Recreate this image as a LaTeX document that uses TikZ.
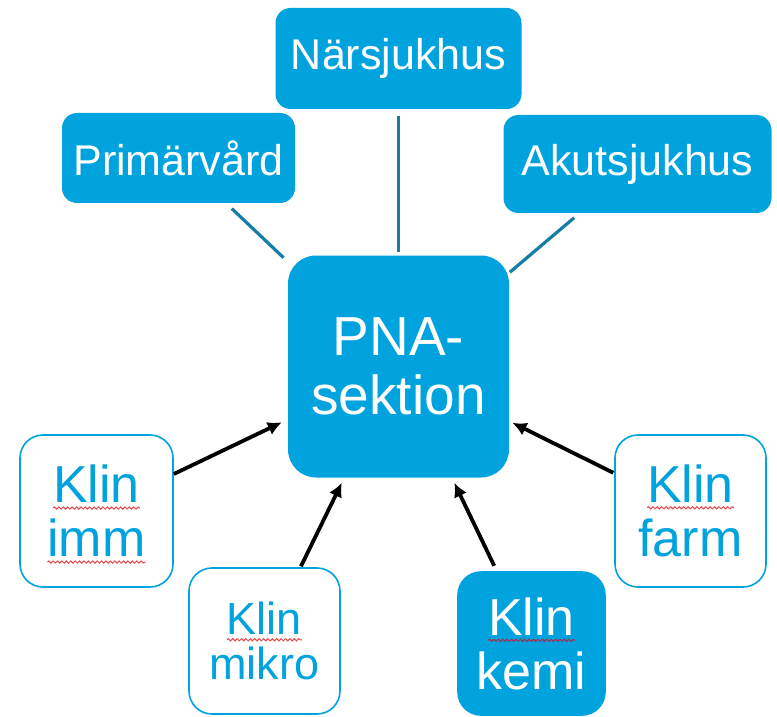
\documentclass[tikz,border=0pt]{standalone}
\usepackage{fontspec}
\setmainfont{Liberation Sans}
\usetikzlibrary{arrows.meta,decorations.pathmorphing}

\definecolor{pnablue}{RGB}{0,163,222}
\definecolor{linkteal}{RGB}{22,126,166}
\definecolor{spellred}{RGB}{232,72,72}
\definecolor{spelldark}{RGB}{175,40,70}
\newsavebox{\spellbox}
\newcommand{\spell}[2][spellred]{\sbox{\spellbox}{#2}\rlap{\usebox{\spellbox}}%
  \tikz[baseline=0pt]{\useasboundingbox (0pt,0pt) rectangle (\wd\spellbox,0pt);
    \draw[sharp corners,draw=#1,line width=0.5pt,decorate,
          decoration={snake,amplitude=0.55pt,segment length=2.2pt}]
      (0pt,-2.6pt) -- (\wd\spellbox,-2.6pt);}}

\begin{document}
\begin{tikzpicture}[x=0.5pt, y=-0.5pt, thick,
    main node/.style={rectangle,rounded corners=7.5pt,fill=pnablue,text=white,inner sep=2pt,font=\fontsize{21.5}{24}\selectfont},
    klin node/.style={rectangle,rounded corners=11.5pt,draw=pnablue,line width=0.8pt,fill=white,text=pnablue,
                      align=center,inner sep=2pt,font=\fontsize{26}{27}\selectfont},
    link/.style={draw=linkteal,line width=1.6pt},
    feed/.style={draw=black,line width=1.9pt,-{Latex[length=7pt,width=7pt]}}]

  \useasboundingbox (0,0) rectangle (777,717);

  \node[main node,minimum width=110.5pt,minimum height=111pt,rounded corners=14pt,
        align=center,font=\fontsize{27.5}{29.5}\selectfont] (pna) at (398.5,366.5) {PNA-\\sektion};
  \node[main node,minimum width=123pt,minimum height=50.5pt] (nar) at (398.5,58.5) {Närsjukhus};
  \node[main node,minimum width=116.5pt,minimum height=45pt] (prim) at (178.5,158) {Primärvård};
  \node[main node,minimum width=134pt,minimum height=49pt] (akut) at (637.5,164) {Akutsjukhus};

  \node[klin node,minimum width=76.5pt,minimum height=76pt] (imm) at (96.5,511) {\spell{Klin}\\\spell{imm}};
  \node[klin node,minimum width=75.5pt,minimum height=73pt,font=\fontsize{22.5}{22.5}\selectfont]
       (mikro) at (264.5,641) {\spell{Klin}\\mikro};
  \node[klin node,minimum width=73.5pt,minimum height=71.5pt,fill=pnablue,text=white]
       (kemi) at (531.5,643.5) {\spell[spelldark]{Klin}\\kemi};
  \node[klin node,minimum width=75.5pt,minimum height=76pt] (farm) at (690.5,511) {\spell{Klin}\\farm};

  \path[link]
    (prim) edge[shorten <=3.5pt,shorten >=2.5pt] (pna)
    (nar)  edge[shorten <=3pt,shorten >=1.5pt] (pna)
    (akut) edge[shorten <=3pt] (pna);

  \path[feed]
    (imm)   edge[shorten >=3pt] (pna)
    (mikro) edge[shorten <=0.5pt,shorten >=2.5pt] (pna)
    (kemi)  edge[shorten <=3pt,shorten >=2.5pt] (pna)
    (farm)  edge[shorten <=0.5pt,shorten >=1.5pt] (pna);
\end{tikzpicture}
\end{document}
